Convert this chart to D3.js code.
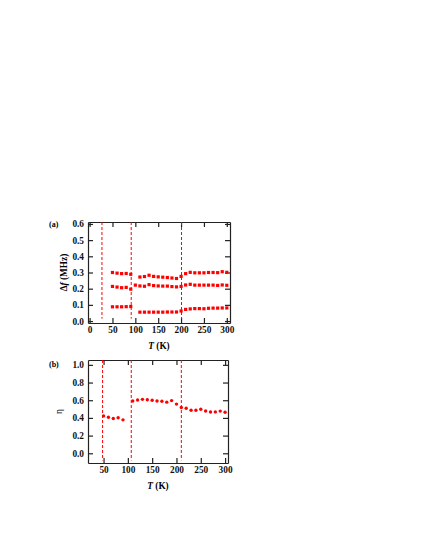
<!DOCTYPE html>
<html><head><meta charset="utf-8">
<script src="https://cdn.jsdelivr.net/npm/d3@7"></script>
<style>html,body{margin:0;padding:0;background:#fff;}svg{display:block;}</style>
</head><body>
<script>
// ---- data ----
const tempsTop = [50,60,70,80,90,110,120,130,140,150,160,170,180,190,200,210,220,230,240,250,260,270,280,290,300];
const dfTop    = [0.300,0.296,0.293,0.294,0.289,0.272,0.275,0.283,0.276,0.273,0.271,0.269,0.266,0.263,0.276,0.293,0.301,0.298,0.298,0.298,0.300,0.300,0.299,0.305,0.301];
const tempsMid = [50,60,70,80,90,100,110,120,130,140,150,160,170,180,190,200,210,220,230,240,250,260,270,280,290,300];
const dfMid    = [0.214,0.210,0.206,0.208,0.197,0.222,0.217,0.215,0.225,0.219,0.217,0.216,0.216,0.213,0.211,0.214,0.223,0.227,0.222,0.222,0.222,0.222,0.222,0.220,0.223,0.221];
const tempsBot = [50,60,70,80,90,110,120,130,140,150,160,170,180,190,200,210,220,230,240,250,260,270,280,290,300];
const dfBot    = [0.088,0.088,0.088,0.089,0.090,0.055,0.055,0.055,0.055,0.055,0.055,0.056,0.056,0.056,0.062,0.072,0.075,0.077,0.077,0.076,0.079,0.080,0.080,0.081,0.081];
const tempsEta = [50,60,70,80,90,110,120,130,140,150,160,170,180,190,200,210,220,230,240,250,260,270,280,290,300];
const etaVals  = [0.423,0.408,0.394,0.402,0.378,0.592,0.602,0.610,0.606,0.600,0.592,0.588,0.578,0.596,0.556,0.517,0.510,0.487,0.487,0.498,0.478,0.467,0.468,0.477,0.464];
const vlinesA = [27, 91, 201];
const vlinesB = [48, 107, 210];
const xTicksA = [0,50,100,150,200,250,300];
const xTicksB = [50,100,150,200,250,300];
const yTicksA = [0.0,0.1,0.2,0.3,0.4,0.5,0.6];
const yTicksB = [0.0,0.2,0.4,0.6,0.8,1.0];

// ---- drawing ----
const W = 421, H = 545;
const svg = d3.select("body").append("svg").attr("width", W).attr("height", H);
svg.append("rect").attr("width", W).attr("height", H).attr("fill", "#fff");
const font = "'Liberation Serif','Times New Roman',serif";
const red = "#f00";
const axisCol = "#222";

function panel(opt) {
  const g = svg.append("g");
  const x = d3.scaleLinear().domain(opt.xDom).range([opt.left, opt.right]);
  const y = d3.scaleLinear().domain(opt.yDom).range([opt.bottom, opt.top]);
  const tl = 5;
  const mk = (axis) => axis.tickSizeInner(-tl).tickSizeOuter(0);
  const styleAxis = (sel, showLabels) => {
    sel.select(".domain").attr("stroke", axisCol).attr("stroke-width", 1.2);
    sel.selectAll(".tick line").attr("stroke", axisCol).attr("stroke-width", 1.2);
    sel.selectAll(".tick text").attr("font-family", font).attr("font-weight", "bold")
      .attr("font-size", 9.3).attr("fill", "#111");
    if (!showLabels) sel.selectAll(".tick text").remove();
  };
  const fmt = d3.format(".1f");
  const bx = g.append("g").attr("transform", `translate(0,${opt.bottom})`)
    .call(mk(d3.axisBottom(x).tickValues(opt.xTicks).tickFormat(d3.format("d"))).tickPadding(3));
  bx.selectAll(".tick text").attr("dy", "0.75em");
  styleAxis(bx, true);
  const tx = g.append("g").attr("transform", `translate(0,${opt.top})`)
    .call(mk(d3.axisTop(x).tickValues(opt.xTicks)));
  styleAxis(tx, false);
  const ly = g.append("g").attr("transform", `translate(${opt.left},0)`)
    .call(mk(d3.axisLeft(y).tickValues(opt.yTicks).tickFormat(fmt)).tickPadding(4));
  styleAxis(ly, true);
  const ry = g.append("g").attr("transform", `translate(${opt.right},0)`)
    .call(mk(d3.axisRight(y).tickValues(opt.yTicks)));
  styleAxis(ry, false);

  // dashed lines
  g.selectAll("line.vl").data(opt.vlines).join("line")
    .attr("x1", d => x(d)).attr("x2", d => x(d))
    .attr("y1", y(opt.vlineY[0])).attr("y2", y(opt.vlineY[1]))
    .attr("stroke", red).attr("stroke-width", 1).attr("stroke-dasharray", "3,2");

  // labels
  g.append("text").attr("x", opt.tagX).attr("y", opt.tagY).text(opt.tag)
    .attr("font-family", font).attr("font-weight", "bold").attr("font-size", 8);
  const xl = g.append("text").attr("x", (opt.left + opt.right) / 2).attr("y", opt.xLabY)
    .attr("text-anchor", "middle").attr("font-family", font).attr("font-weight", "bold").attr("font-size", 9.3);
  xl.append("tspan").attr("font-style", "italic").text("T");
  xl.append("tspan").text(" (K)");
  const yl = g.append("text")
    .attr("transform", `translate(${opt.yLabX},${(opt.top + opt.bottom) / 2}) rotate(-90)`)
    .attr("text-anchor", "middle").attr("font-family", font).attr("font-weight", opt.yBold ? "bold" : "normal").attr("font-size", 9.3);
  opt.yLab(yl);
  return {g, x, y};
}

const A = panel({
  left: 88, right: 230, top: 222, bottom: 323,
  xDom: [-3.5, 307], yDom: [-0.012, 0.612],
  xTicks: xTicksA, yTicks: yTicksA, vlines: vlinesA, vlineY: [0.612, 0.015],
  tag: "(a)", tagX: 49, tagY: 227, xLabY: 349, yLabX: 67, yBold: true,
  yLab: t => { t.append("tspan").text("Δ"); t.append("tspan").attr("font-style","italic").text("f"); t.append("tspan").text(" (MHz)"); }
});
[[tempsTop, dfTop], [tempsMid, dfMid], [tempsBot, dfBot]].forEach(([ts, vs]) => {
  A.g.append("g").selectAll("rect").data(ts.map((t, i) => [t, vs[i]])).join("rect")
    .attr("x", d => A.x(d[0]) - 1.6).attr("y", d => A.y(d[1]) - 1.6)
    .attr("width", 3.2).attr("height", 3.2).attr("fill", red);
});

const B = panel({
  left: 88, right: 228, top: 360, bottom: 463,
  xDom: [18, 306], yDom: [-0.11, 1.055],
  xTicks: xTicksB, yTicks: yTicksB, vlines: vlinesB, vlineY: [1.055, -0.08],
  tag: "(b)", tagX: 49, tagY: 367, xLabY: 489, yLabX: 62, yBold: false,
  yLab: t => { t.text("η"); }
});
B.g.append("g").selectAll("circle").data(tempsEta.map((t, i) => [t, etaVals[i]])).join("circle")
  .attr("cx", d => B.x(d[0])).attr("cy", d => B.y(d[1])).attr("r", 1.7).attr("fill", red);
</script>
</body></html>
